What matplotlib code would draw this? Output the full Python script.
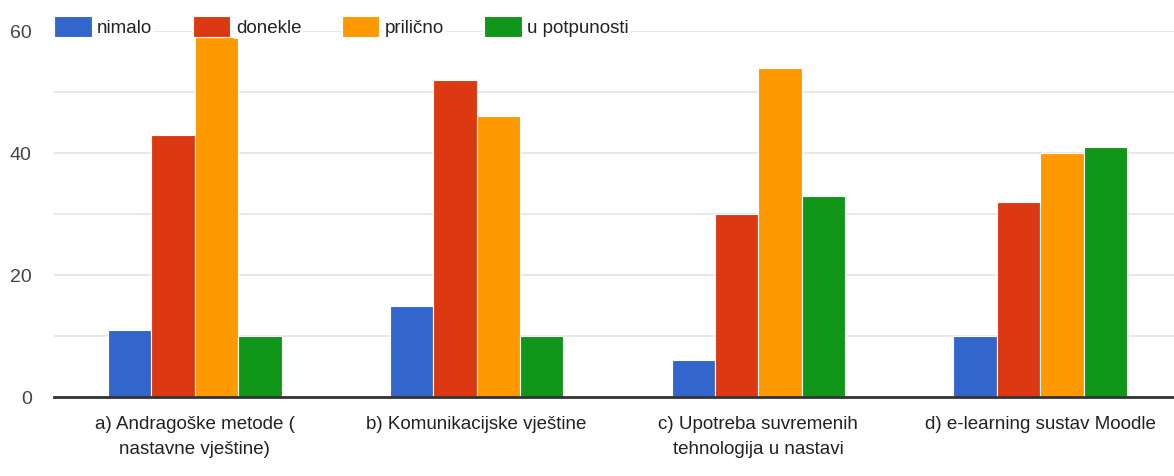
import numpy as np
import matplotlib
matplotlib.use("Agg")
import matplotlib.pyplot as plt

plt.rcParams['font.family'] = ['Liberation Sans', 'DejaVu Sans']

# podaci
kategorije = ["a) Andragoške metode (\nnastavne vještine)",
              "b) Komunikacijske vještine",
              "c) Upotreba suvremenih\ntehnologija u nastavi",
              "d) e-learning sustav Moodle"]
serije = ["nimalo", "donekle", "prilično", "u potpunosti"]
nimalo = [11, 15, 6, 10]
donekle = [43, 52, 30, 32]
prilicno = [59, 46, 54, 40]
u_potpunosti = [10, 10, 33, 41]
boje = ["#3366cc", "#dc3912", "#ff9900", "#109618"]

vrijednosti = [nimalo, donekle, prilicno, u_potpunosti]

fig = plt.figure(figsize=(11.74, 4.76), dpi=100)
ax = fig.add_axes([54/1174, 79/476, 1 - 54/1174 + 7/1174, (397-31)/476])

x = np.arange(len(kategorije))
w = 0.154
for i, (ime, v, c) in enumerate(zip(serije, vrijednosti, boje)):
    ax.bar(x + (i - 1.5)*w, v, w, color=c, edgecolor='white', linewidth=0.8,
           label=ime, zorder=3)

ax.set_xlim(-0.5, 3.5)
ax.set_ylim(0, 60)
ax.set_yticks([0, 20, 40, 60])
ax.set_yticks([10, 30, 50], minor=True)
ax.grid(axis='y', which='both', color='#e4e4e4', linewidth=1.2, zorder=0)
ax.set_xticks(x)
ax.set_xticklabels(kategorije, fontsize=13.5, color='#222222', linespacing=1.6)
ax.tick_params(axis='x', length=0, pad=14)
ax.tick_params(axis='y', which='both', length=0, pad=16, labelsize=14, labelcolor='#444444')
for s in ['top', 'right', 'left']:
    ax.spines[s].set_visible(False)
ax.spines['bottom'].set_color('#333333')
ax.spines['bottom'].set_linewidth(2)
ax.spines['bottom'].set_zorder(4)

leg = ax.legend(loc='center left', bbox_to_anchor=(0.0, 1.012), ncol=4, frameon=False,
                fontsize=13.5, handlelength=2.0, handleheight=1.3, handletextpad=0.3,
                columnspacing=2.15, borderaxespad=0, borderpad=0)
for t in leg.get_texts():
    t.set_color('#222222')
    t.set_bbox(dict(facecolor='white', edgecolor='none', pad=1.5))
leg.set_zorder(5)

fig.savefig("out.png", dpi=100)
